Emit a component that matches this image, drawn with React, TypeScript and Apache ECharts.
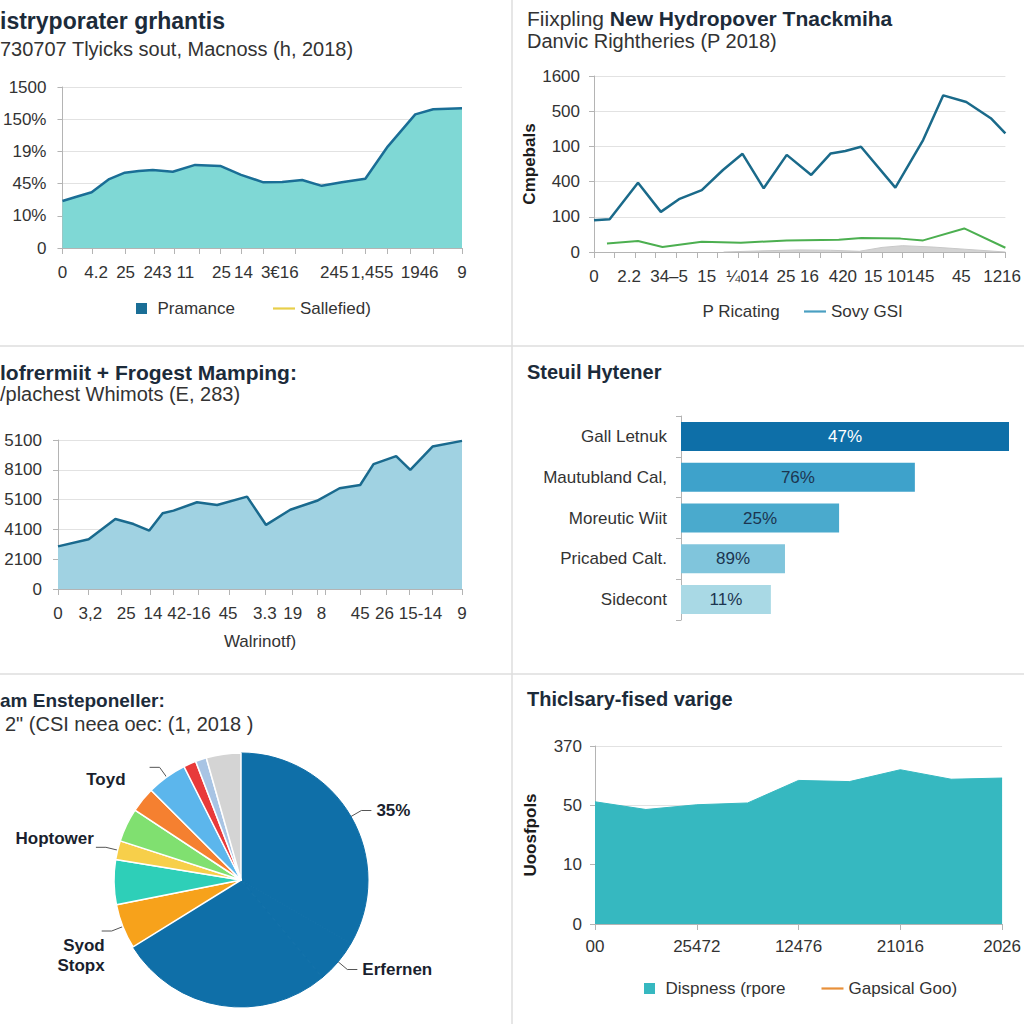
import React, { useEffect, useRef } from "react";
import * as echarts from "echarts";

const FONT = "'Liberation Sans', Arial, Helvetica, sans-serif";

// ---------- Panel 1 (top-left area) ----------
const p1X = [0, 3.5, 7.3, 11.7, 15.6, 19.1, 22.6, 27.6, 33.2, 39.5, 44.7, 50.3, 55.0, 60.0, 64.9, 69.9, 75.8, 81.4, 88.3, 92.8, 100];
const p1Y = [1.46, 1.59, 1.73, 2.14, 2.34, 2.39, 2.42, 2.37, 2.58, 2.55, 2.27, 2.04, 2.05, 2.11, 1.93, 2.04, 2.15, 3.15, 4.15, 4.31, 4.34];
const p1YLabels = ["0", "10%", "45%", "19%", "150%", "1500"];
const p1XLabels = ["0", "4.2", "25", "243 11", "25", "14", "3€16", "245", "1,455", "1946", "9"];
const p1XLabelPos = [0, 8.4, 15.8, 26.6, 39.8, 45.3, 54.4, 68, 77.5, 89.4, 100];
const p1XTicks = [0, 7.5, 15.6, 22.9, 28, 34.3, 39.5, 44.7, 50.2, 58.2, 70.1, 75.8, 81.2, 87, 92.7, 100];

// ---------- Panel 2 (top-right lines) ----------
const p2MainX = [0, 0.76, 2.14, 3.25, 4.13, 5.24, 6.27, 7.22, 8.25, 9.37, 10.56, 11.51, 12.22, 12.98, 14.65, 16.0, 16.98, 18.1, 19.29, 20];
const p2MainY = [0.9, 0.93, 1.97, 1.14, 1.5, 1.76, 2.33, 2.79, 1.81, 2.76, 2.19, 2.8, 2.87, 2.99, 1.83, 3.18, 4.45, 4.26, 3.8, 3.37];
const p2GreenX = [0.63, 2.14, 3.33, 5.24, 7.14, 9.37, 11.9, 13.0, 14.9, 16.0, 18.0, 20];
const p2GreenY = [0.24, 0.31, 0.14, 0.29, 0.26, 0.33, 0.35, 0.4, 0.38, 0.33, 0.67, 0.12];
const p2GrayX = [6.3, 8, 10, 11.5, 12.9, 14, 15, 16.5, 18, 20];
const p2GrayY = [0, 0.03, 0.06, 0.05, 0.02, 0.13, 0.18, 0.14, 0.08, 0];
const p2YLabels = ["0", "100", "400", "100", "500", "1600"];
const p2XLabels = ["0", "2.2", "34–5", "15", "¼014", "25", "16", "420", "15", "10145", "45", "1216"];
const p2XLabelPos = [0, 1.71, 3.65, 5.48, 7.46, 9.33, 10.48, 12.1, 13.57, 15.4, 17.86, 19.84];
const p2XTicks = [0, 1, 2, 3, 4, 5, 6, 7, 8, 9, 10, 11, 12, 13, 14, 15, 16, 17, 18, 19, 20];

// ---------- Panel 3 (middle-left area) ----------
const p3X = [0, 7.6, 14.2, 18.7, 22.6, 25.9, 28.6, 34.4, 39.4, 46.8, 51.5, 57.5, 64.1, 69.7, 74.8, 78.1, 83.7, 87.2, 92.7, 100];
const p3Y = [1.43, 1.67, 2.35, 2.18, 1.96, 2.54, 2.63, 2.91, 2.82, 3.1, 2.15, 2.66, 2.96, 3.38, 3.49, 4.19, 4.46, 4.0, 4.78, 4.97];
const p3YLabels = ["0", "2100", "4100", "5100", "8100", "5100"];
const p3XLabels = ["0", "3,2", "25", "14 42-16", "45", "3.3", "19", "8", "45", "26 15-14", "9"];
const p3XLabelPos = [0, 8.0, 16.9, 29.5, 42.1, 51.2, 58.1, 65.2, 74.8, 86.8, 100];
const p3XTicks = [0, 7.6, 15.6, 22.9, 28.5, 34.6, 42.3, 51.2, 58.1, 64.1, 66.2, 74.8, 81.2, 86.9, 92.7, 100];

// ---------- Panel 4 (bars) ----------
const barCats = ["Gall Letnuk", "Mautubland Cal,", "Moreutic Wiit", "Pricabed Calt.", "Sidecont"];
const barValues = [100, 71.3, 48.2, 31.7, 27.4];
const barLabels = ["47%", "76%", "25%", "89%", "11%"];

// ---------- Panel 5 (pie) ----------
const pieNames = ["35%", "Erfernen", "", "Syod\nStopx", "", "Hoptower", "", "", "Toyd", "", "", ""];
const pieValues = [33.3, 5.6, 27.2, 5.7, 5.7, 2.4, 4.3, 3.2, 5.1, 1.6, 1.4, 4.4];

// ---------- Panel 6 (area) ----------
const p6X = [0, 1, 2, 3, 4, 5, 6, 7, 8];
const p6Y = [2.06, 1.93, 2.01, 2.04, 2.42, 2.4, 2.6, 2.44, 2.46];
const p6YLabels = ["0", "10", "50", "370"];
const p6XLabels = ["00", "25472", "12476", "21016", "2026"];

// ---------- styles ----------
const barColors = ["#0e6fa8", "#3ea2cb", "#4aaacd", "#80c5dc", "#a9d9e5"];
const pieColors = ["#0f6fa8", "#0f6fa8", "#0f6fa8", "#f7a21b", "#2ecfb8", "#f7cf4a", "#80e070", "#f58030", "#5cb6ec", "#e83a3a", "#a8c4e4", "#d4d4d4"];
const PIE_LABEL_NUDGE: Record<number, [number, number]> = { 3: [8, 24], 5: [3, -9], 8: [-19, 12] };

const AXIS_GRAY = "#b4b4b4";
const LABEL = { color: "#333", fontSize: 17, fontFamily: FONT };
const SQUARE = "path://M0,0h10v10h-10z";
const DASH = "path://M0,0h22v2.2h-22z";

function lookup(vals: number[], labels: string[]) {
  return (v: number) => {
    for (let i = 0; i < vals.length; i++) if (Math.abs(vals[i] - v) < 1e-6) return labels[i];
    return "";
  };
}

function yAxisBase(grid: number, max: number, labels: string[], margin: number) {
  return {
    type: "value",
    gridIndex: grid,
    min: 0,
    max,
    interval: 1,
    axisLine: { show: true, lineStyle: { color: AXIS_GRAY } },
    axisTick: { show: true, length: 5, lineStyle: { color: AXIS_GRAY } },
    axisLabel: { ...LABEL, margin, formatter: (v: number) => labels[Math.round(v)] },
    splitLine: { show: true, lineStyle: { color: "#e2e2e2" } },
  };
}

function xAxisCustom(grid: number, max: number, ticks: number[], labelPos: number[], labels: string[], margin: number) {
  return {
    type: "value",
    gridIndex: grid,
    min: 0,
    max,
    axisLine: { show: true, lineStyle: { color: AXIS_GRAY } },
    axisTick: { show: true, length: 6, customValues: ticks, lineStyle: { color: AXIS_GRAY } },
    axisLabel: { ...LABEL, margin, customValues: labelPos, formatter: lookup(labelPos, labels) },
    splitLine: { show: false },
  };
}

const zip = (xs: number[], ys: number[]) => xs.map((x, i) => [x, ys[i]]);

export default function App() {
  const ref = useRef<HTMLDivElement>(null);
  useEffect(() => {
    if (!ref.current) return;
    const chart = echarts.init(ref.current, undefined, { renderer: "svg" });
    const bold = (size: number) => ({ fontFamily: FONT, fontSize: size, fontWeight: "bold", color: "#1c2b3a", lineHeight: size + 3 });
    const norm = (size: number) => ({ fontFamily: FONT, fontSize: size, fontWeight: "normal", color: "#333", lineHeight: size + 3 });
    const option: any = {
      animation: false,
      backgroundColor: "#ffffff",
      textStyle: { fontFamily: FONT },
      title: [
        { text: "istryporater grhantis", left: 0, top: 8, padding: 0, textStyle: bold(23) },
        { text: "730707 Tlyicks sout, Macnoss (h, 2018)", left: 0, top: 37, padding: 0, textStyle: norm(20) },
        {
          text: "{a|Fiixpling }{b|New Hydropover Tnackmiha}",
          left: 527,
          top: 6,
          padding: 0,
          textStyle: {
            rich: {
              a: { fontFamily: FONT, fontSize: 21, fontWeight: "normal", color: "#333", lineHeight: 24 },
              b: { fontFamily: FONT, fontSize: 21, fontWeight: "bold", color: "#1c2b3a", lineHeight: 24 },
            },
          },
        },
        { text: "Danvic Rightheries (P 2018)", left: 527, top: 29, padding: 0, textStyle: norm(20) },
        { text: "lofrermiit + Frogest Mamping:", left: 0, top: 360, padding: 0, textStyle: bold(21) },
        { text: "/plachest Whimots (E, 283)", left: 0, top: 382, padding: 0, textStyle: norm(20) },
        { text: "Steuil Hytener", left: 527, top: 360, padding: 0, textStyle: bold(20) },
        { text: "am Ensteponeller:", left: 0, top: 689, padding: 0, textStyle: bold(19) },
        { text: "2\" (CSI neea oec: (1, 2018 )", left: 5, top: 712, padding: 0, textStyle: norm(20) },
        { text: "Thiclsary-fised varige", left: 527, top: 687, padding: 0, textStyle: bold(20) },
      ],
      legend: [
        {
          left: 136,
          top: 300,
          padding: 0,
          itemWidth: 22,
          itemHeight: 11,
          itemGap: 38,
          textStyle: LABEL,
          selectedMode: false,
          data: [
            { name: "Pramance", icon: SQUARE },
            { name: "Sallefied)", icon: DASH },
          ],
        },
        {
          left: 681,
          top: 303,
          padding: 0,
          itemWidth: 22,
          itemHeight: 11,
          itemGap: 24,
          textStyle: LABEL,
          selectedMode: false,
          data: [
            { name: "P Ricating", icon: SQUARE, itemStyle: { color: "rgba(0,0,0,0)", borderWidth: 0 } },
            { name: "Sovy GSI", icon: DASH, itemStyle: { color: "#4a9fc2" } },
          ],
        },
        {
          left: 644,
          top: 980,
          padding: 0,
          itemWidth: 22,
          itemHeight: 11,
          itemGap: 36,
          textStyle: LABEL,
          selectedMode: false,
          data: [
            { name: "Dispness (rpore", icon: SQUARE },
            { name: "Gapsical Goo)", icon: DASH },
          ],
        },
      ],
      grid: [
        { left: 58, top: 87, width: 404, height: 161 },
        { left: 594, top: 76, width: 421, height: 176 },
        { left: 58, top: 440, width: 404, height: 149 },
        { left: 681, top: 416, width: 328, height: 204 },
        { left: 595, top: 746, width: 420, height: 178 },
      ],
      xAxis: [
        xAxisCustom(0, 100, p1XTicks, p1XLabelPos, p1XLabels, 16),
        xAxisCustom(1, 20, p2XTicks, p2XLabelPos, p2XLabels, 16),
        {
          ...xAxisCustom(2, 100, p3XTicks, p3XLabelPos, p3XLabels, 16),
          name: "Walrinotf)",
          nameLocation: "middle",
          nameGap: 44,
          nameTextStyle: LABEL,
        },
        { type: "value", gridIndex: 3, min: 0, max: 100, show: false },
        {
          type: "value",
          gridIndex: 4,
          min: 0,
          max: 8,
          interval: 2,
          axisLine: { show: true, lineStyle: { color: AXIS_GRAY } },
          axisTick: { show: true, length: 6, lineStyle: { color: AXIS_GRAY } },
          axisLabel: { ...LABEL, margin: 14, formatter: (v: number) => p6XLabels[Math.round(v / 2)] },
          splitLine: { show: false },
        },
      ],
      yAxis: [
        yAxisBase(0, 5, p1YLabels, 16),
        {
          ...yAxisBase(1, 5, p2YLabels, 14),
          name: "Cmpebals",
          nameLocation: "middle",
          nameGap: 55,
          nameTextStyle: { fontFamily: FONT, fontSize: 17, fontWeight: "bold", color: "#1c1c1c" },
        },
        yAxisBase(2, 5, p3YLabels, 16),
        {
          type: "category",
          gridIndex: 3,
          data: barCats,
          inverse: true,
          axisLine: { show: true, lineStyle: { color: AXIS_GRAY } },
          axisTick: { show: true, length: 5, lineStyle: { color: AXIS_GRAY } },
          axisLabel: { ...LABEL, margin: 14 },
          splitLine: { show: false },
        },
        {
          ...yAxisBase(4, 3, p6YLabels, 13),
          name: "Uoosfpols",
          nameLocation: "middle",
          nameGap: 56,
          nameTextStyle: { fontFamily: FONT, fontSize: 17, fontWeight: "bold", color: "#1c1c1c" },
        },
      ],
      series: [
        {
          name: "Pramance",
          type: "line",
          xAxisIndex: 0,
          yAxisIndex: 0,
          data: zip(p1X, p1Y),
          symbol: "none",
          itemStyle: { color: "#1a6e96" },
          lineStyle: { color: "#1a6e96", width: 2.5 },
          areaStyle: { color: "#7fd8d5", opacity: 1 },
        },
        {
          name: "Sallefied)",
          type: "line",
          xAxisIndex: 0,
          yAxisIndex: 0,
          data: [],
          symbol: "none",
          itemStyle: { color: "#e8cf4a" },
          lineStyle: { color: "#e8cf4a", width: 2 },
        },
        {
          name: "P Ricating",
          type: "line",
          xAxisIndex: 1,
          yAxisIndex: 1,
          data: zip(p2GrayX, p2GrayY),
          symbol: "none",
          itemStyle: { color: "#cccccc" },
          lineStyle: { color: "#c8c8c8", width: 1 },
          areaStyle: { color: "#d3d3d3", opacity: 1 },
        },
        {
          name: "p2green",
          type: "line",
          xAxisIndex: 1,
          yAxisIndex: 1,
          data: zip(p2GreenX, p2GreenY),
          symbol: "none",
          itemStyle: { color: "#4caf50" },
          lineStyle: { color: "#4caf50", width: 2 },
        },
        {
          name: "Sovy GSI",
          type: "line",
          xAxisIndex: 1,
          yAxisIndex: 1,
          data: zip(p2MainX, p2MainY),
          symbol: "none",
          itemStyle: { color: "#1a6a8a" },
          lineStyle: { color: "#1a6a8a", width: 2.5 },
        },
        {
          name: "p3area",
          type: "line",
          xAxisIndex: 2,
          yAxisIndex: 2,
          data: zip(p3X, p3Y),
          symbol: "none",
          itemStyle: { color: "#1a6a8e" },
          lineStyle: { color: "#1a6a8e", width: 2.5 },
          areaStyle: { color: "#a0d2e2", opacity: 1 },
        },
        {
          name: "bars",
          type: "bar",
          xAxisIndex: 3,
          yAxisIndex: 3,
          barWidth: 29,
          silent: true,
          data: barValues.map((v, i) => ({
            value: v,
            itemStyle: { color: barColors[i] },
            label: { color: i === 0 ? "#ffffff" : "#1c3550" },
          })),
          label: {
            show: true,
            position: "inside",
            fontFamily: FONT,
            fontSize: 17,
            formatter: (p: any) => barLabels[p.dataIndex],
          },
        },
        {
          name: "pie",
          type: "pie",
          center: [241, 880],
          radius: 127,
          startAngle: 90,
          clockwise: true,
          silent: true,
          avoidLabelOverlap: true,
          itemStyle: { borderColor: "#ffffff", borderWidth: 1.5 },
          label: { fontFamily: FONT, fontSize: 17, fontWeight: "bold", color: "#1a1f2e", formatter: "{b}", lineHeight: 20 },
          labelLine: { length: 12, length2: 10, lineStyle: { color: "#555", width: 1 } },
          labelLayout: (params: any) => {
            const n = PIE_LABEL_NUDGE[params.dataIndex];
            return n ? { dx: n[0], dy: n[1] } : {};
          },
          data: pieNames.map((n, i) => ({
            name: n,
            value: pieValues[i],
            itemStyle:
              i < 3
                ? { color: pieColors[i], borderColor: pieColors[i], borderWidth: 1 }
                : { color: pieColors[i] },
            label: { show: n !== "" },
            labelLine: { show: n !== "" },
          })),
        },
        {
          name: "Dispness (rpore",
          type: "line",
          xAxisIndex: 4,
          yAxisIndex: 4,
          data: zip(p6X, p6Y),
          symbol: "none",
          itemStyle: { color: "#36b8c0" },
          lineStyle: { color: "#36b8c0", width: 1 },
          areaStyle: { color: "#36b8c0", opacity: 1 },
        },
        {
          name: "Gapsical Goo)",
          type: "line",
          xAxisIndex: 4,
          yAxisIndex: 4,
          data: [],
          symbol: "none",
          itemStyle: { color: "#e8903a" },
          lineStyle: { color: "#e8903a", width: 2 },
        },
      ],
      graphic: [
        { type: "line", silent: true, shape: { x1: 512, y1: 0, x2: 512, y2: 1024 }, style: { stroke: "#dedede", lineWidth: 1.5 } },
        { type: "line", silent: true, shape: { x1: 0, y1: 346, x2: 1024, y2: 346 }, style: { stroke: "#dedede", lineWidth: 1.5 } },
        { type: "line", silent: true, shape: { x1: 0, y1: 674, x2: 1024, y2: 674 }, style: { stroke: "#dedede", lineWidth: 1.5 } },
      ],
    };
    chart.setOption(option);
    return () => chart.dispose();
  }, []);
  return (
    <div
      ref={ref}
      style={{ position: "fixed", left: 0, top: 0, width: 1024, height: 1024, background: "#fff" }}
    />
  );
}
